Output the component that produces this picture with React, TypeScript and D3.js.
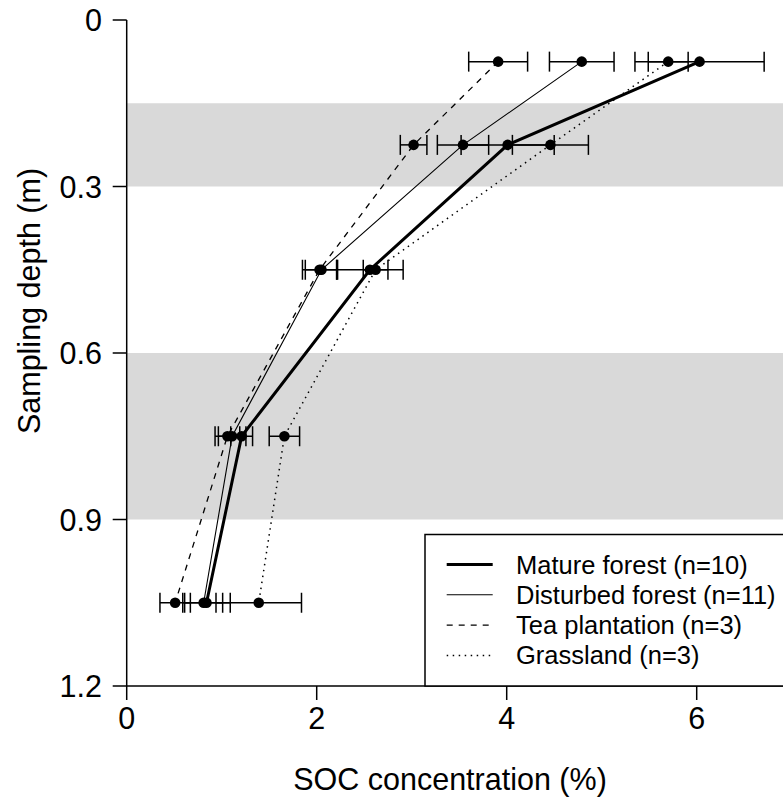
import React from "react";
import * as d3 from "d3";

const depths = [0.075, 0.225, 0.45, 0.75, 1.05];
const matureMean = [6.03, 4.01, 2.56, 1.21, 0.84];
const matureSe = [0.68, 0.49, 0.35, 0.115, 0.25];
const disturbedMean = [4.79, 3.54, 2.05, 1.11, 0.81];
const disturbedSe = [0.34, 0.27, 0.17, 0.145, 0.2];
const teaMean = [3.91, 3.02, 2.03, 1.06, 0.51];
const teaSe = [0.31, 0.14, 0.18, 0.13, 0.16];
const grassMean = [5.7, 4.46, 2.62, 1.66, 1.39];
const grassSe = [0.21, 0.4, 0.13, 0.16, 0.45];

const xTicks = [0, 2, 4, 6];
const yTicks = [0, 0.3, 0.6, 0.9, 1.2];
const bands = [
  [0.15, 0.3],
  [0.6, 0.9],
];
const legendLabels = [
  "Mature forest (n=10)",
  "Disturbed forest (n=11)",
  "Tea plantation (n=3)",
  "Grassland (n=3)",
];

const W = 783;
const H = 800;
const FONT = "'Liberation Sans', Arial, sans-serif";
const FS_LEG = 25.5;
const FS_AX = 30.5;

const x = d3.scaleLinear().domain([0, 6]).range([126.7, 696.7]);
const y = d3.scaleLinear().domain([0, 1.2]).range([20, 686]);

const series = [
  { mean: matureMean, se: matureSe, width: 3, dash: "none" },
  { mean: disturbedMean, se: disturbedSe, width: 1.1, dash: "none" },
  { mean: teaMean, se: teaSe, width: 1.3, dash: "6,6" },
  { mean: grassMean, se: grassSe, width: 1.5, dash: "1.5,4.5" },
];

export default function App() {
  const line = d3
    .line<number>()
    .x((d) => x(d))
    .y((_, i) => y(depths[i]));
  const xMax = x.invert(W + 5);
  const cap = 10;
  return (
    <svg
      width={W}
      height={H}
      style={{ position: "absolute", left: 0, top: 0, background: "#fff" }}
      fontFamily={FONT}
    >
      {bands.map(([a, b], i) => (
        <rect
          key={i}
          x={x(0)}
          y={y(a)}
          width={x(xMax) - x(0)}
          height={y(b) - y(a)}
          fill="#d9d9d9"
        />
      ))}
      {series.map((s, i) => (
        <path
          key={i}
          d={line(s.mean) || ""}
          fill="none"
          stroke="#000"
          strokeWidth={s.width}
          strokeDasharray={s.dash}
        />
      ))}
      {series.map((s, i) => (
        <g key={i}>
          {s.mean.map((m, j) => {
            const yy = y(depths[j]);
            const x1 = x(m - s.se[j]);
            const x2 = x(m + s.se[j]);
            return (
              <g key={j} stroke="#000" strokeWidth={1.5}>
                <line x1={x1} x2={x2} y1={yy} y2={yy} />
                <line x1={x1} x2={x1} y1={yy - cap} y2={yy + cap} />
                <line x1={x2} x2={x2} y1={yy - cap} y2={yy + cap} />
              </g>
            );
          })}
          {s.mean.map((m, j) => (
            <circle key={"p" + j} cx={x(m)} cy={y(depths[j])} r={5.3} fill="#000" />
          ))}
        </g>
      ))}
      {/* y axis */}
      <line x1={x(0)} x2={x(0)} y1={y(0)} y2={y(1.2)} stroke="#000" strokeWidth={1.5} />
      {yTicks.map((t) => (
        <g key={t}>
          <line x1={x(0) - 14} x2={x(0)} y1={y(t)} y2={y(t)} stroke="#000" strokeWidth={1.5} />
          <text x={102} y={y(t) + 11} textAnchor="end" fontSize={FS_AX} fill="#000">
            {t === 0 ? "0" : t.toFixed(1)}
          </text>
        </g>
      ))}
      {/* x axis */}
      <line x1={x(0)} x2={W + 5} y1={y(1.2)} y2={y(1.2)} stroke="#000" strokeWidth={1.5} />
      {xTicks.map((t) => (
        <g key={t}>
          <line x1={x(t)} x2={x(t)} y1={y(1.2)} y2={y(1.2) + 14} stroke="#000" strokeWidth={1.5} />
          <text x={x(t)} y={728.5} textAnchor="middle" fontSize={FS_AX} fill="#000">
            {t}
          </text>
        </g>
      ))}
      <text x={450} y={790} textAnchor="middle" fontSize={FS_AX} fill="#000">
        SOC concentration (%)
      </text>
      <text
        transform={`translate(40, 301) rotate(-90)`}
        textAnchor="middle"
        fontSize={FS_AX}
        fill="#000"
      >
        Sampling depth (m)
      </text>
      {/* legend */}
      <rect x={425} y={534.5} width={W} height={686 - 534.5} fill="#fff" stroke="#000" strokeWidth={1.5} />
      {legendLabels.map((lab, i) => {
        const ly = 564.5 + i * 30.3;
        const s = series[i];
        return (
          <g key={lab}>
            <line
              x1={446.7}
              x2={492.7}
              y1={ly}
              y2={ly}
              stroke="#000"
              strokeWidth={s.width}
              strokeDasharray={s.dash}
            />
            <text x={516} y={ly + 9} fontSize={FS_LEG} fill="#000">
              {lab}
            </text>
          </g>
        );
      })}
    </svg>
  );
}
